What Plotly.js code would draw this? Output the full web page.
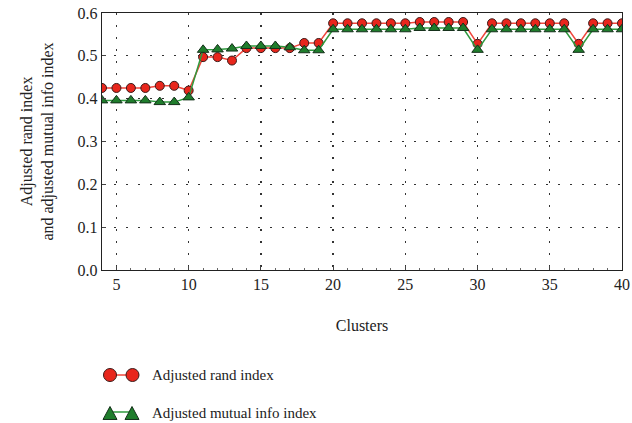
<!DOCTYPE html>
<html>
<head>
<meta charset="utf-8">
<script src="https://cdn.plot.ly/plotly-3.0.1.min.js"></script>
<style>html,body{margin:0;padding:0;background:#fff;}#chart{width:632px;height:423px;}</style>
</head>
<body>
<div id="chart"></div>
<script>
const clusters = [4,5,6,7,8,9,10,11,12,13,14,15,16,17,18,19,20,21,22,23,24,25,26,27,28,29,30,31,32,33,34,35,36,37,38,39,40];
const adjustedRand = [0.425,0.425,0.425,0.425,0.430,0.430,0.419,0.497,0.497,0.489,0.518,0.518,0.518,0.518,0.530,0.530,0.576,0.576,0.576,0.576,0.576,0.576,0.579,0.579,0.579,0.579,0.528,0.576,0.576,0.576,0.576,0.576,0.576,0.528,0.576,0.576,0.576];
const adjustedMutual = [0.396,0.396,0.396,0.396,0.392,0.392,0.403,0.514,0.515,0.517,0.523,0.523,0.523,0.520,0.513,0.513,0.562,0.562,0.562,0.562,0.562,0.562,0.565,0.565,0.565,0.565,0.514,0.562,0.562,0.562,0.562,0.562,0.562,0.514,0.562,0.562,0.562];
const seriesNames = ["Adjusted rand index", "Adjusted mutual info index"];

const fam = "Liberation Serif, DejaVu Serif, serif";
const colors = {redLine: "#f0463c", redFill: "#e8261c", redEdge: "#3a1a18",
                greenLine: "#2f9a3e", greenFill: "#1f7d2c", greenEdge: "#14301a"};

const traces = [
  {x: clusters, y: adjustedRand, name: seriesNames[0], mode: "lines+markers",
   line: {color: colors.redLine, width: 1.5},
   marker: {symbol: "circle", size: 9, color: colors.redFill, line: {color: colors.redEdge, width: 1}}},
  {x: clusters, y: adjustedMutual, name: seriesNames[1], mode: "lines+markers",
   line: {color: colors.greenLine, width: 1.5},
   marker: {symbol: "triangle-up", size: 10, color: colors.greenFill, line: {color: colors.greenEdge, width: 1}}}
];

// Manual legend (drawn below the plot, two markers joined by a line, like the original)
const legY = [-0.4086, -0.5564];
const pixShape = (extra, yA) => Object.assign({xref: "paper", yref: "paper", xsizemode: "pixel", ysizemode: "pixel",
  xanchor: 0, yanchor: yA, layer: "above"}, extra);
const shapes = [
  pixShape({type: "line", x0: 8, x1: 30, y0: 0, y1: 0, line: {color: colors.redLine, width: 1.5}}, legY[0]),
  pixShape({type: "circle", x0: 1.5, x1: 14.5, y0: -6.5, y1: 6.5, fillcolor: colors.redFill, line: {color: colors.redEdge, width: 1}}, legY[0]),
  pixShape({type: "circle", x0: 24, x1: 37, y0: -6.5, y1: 6.5, fillcolor: colors.redFill, line: {color: colors.redEdge, width: 1}}, legY[0]),
  pixShape({type: "line", x0: 8, x1: 30, y0: 1, y1: 1, line: {color: colors.greenLine, width: 1.5}}, legY[1]),
  pixShape({type: "path", path: "M 1,-6.5 L 15,-6.5 L 8,6.5 Z", fillcolor: colors.greenFill, line: {color: colors.greenEdge, width: 1}}, legY[1]),
  pixShape({type: "path", path: "M 23,-6.5 L 37,-6.5 L 30,6.5 Z", fillcolor: colors.greenFill, line: {color: colors.greenEdge, width: 1}}, legY[1])
];
const annotations = seriesNames.map((t, i) => ({
  text: t, xref: "paper", yref: "paper", x: 0.092, y: legY[i], xanchor: "left", yanchor: "middle",
  showarrow: false, font: {family: fam, size: 15, color: "#222"}
}));

const layout = {
  width: 632, height: 423,
  margin: {l: 102, r: 10, t: 13, b: 153},
  paper_bgcolor: "#fff", plot_bgcolor: "#fff",
  font: {family: fam, size: 15, color: "#222"},
  showlegend: false,
  shapes: shapes,
  annotations: annotations,
  xaxis: {
    range: [4, 40], tickmode: "array", tickvals: [5,10,15,20,25,30,35,40],
    showgrid: true, gridcolor: "#333", griddash: "2px,10px", gridwidth: 1.3,
    zeroline: false, showline: true, linecolor: "#222", linewidth: 1.2, mirror: true,
    ticks: "inside", ticklen: 4, tickcolor: "#444",
    minor: {dtick: 1, ticks: "inside", ticklen: 2, tickcolor: "#666", showgrid: false},
    title: {text: "Clusters", font: {family: fam, size: 16, color: "#222"}, standoff: 27},
    tickfont: {family: fam, size: 16, color: "#222"}
  },
  yaxis: {
    range: [0, 0.6], dtick: 0.1, tickformat: ".1f",
    showgrid: true, gridcolor: "#333", griddash: "2px,10px", gridwidth: 1.3,
    zeroline: false, showline: true, linecolor: "#222", linewidth: 1.2, mirror: true,
    ticks: "inside", ticklen: 4, tickcolor: "#444",
    title: {text: "Adjusted rand index<br>and adjusted mutual info index", font: {family: fam, size: 16, color: "#222"}, standoff: 20},
    tickfont: {family: fam, size: 16, color: "#222"}
  }
};

Plotly.newPlot("chart", traces, layout, {displayModeBar: false, staticPlot: true});
</script>
</body>
</html>
